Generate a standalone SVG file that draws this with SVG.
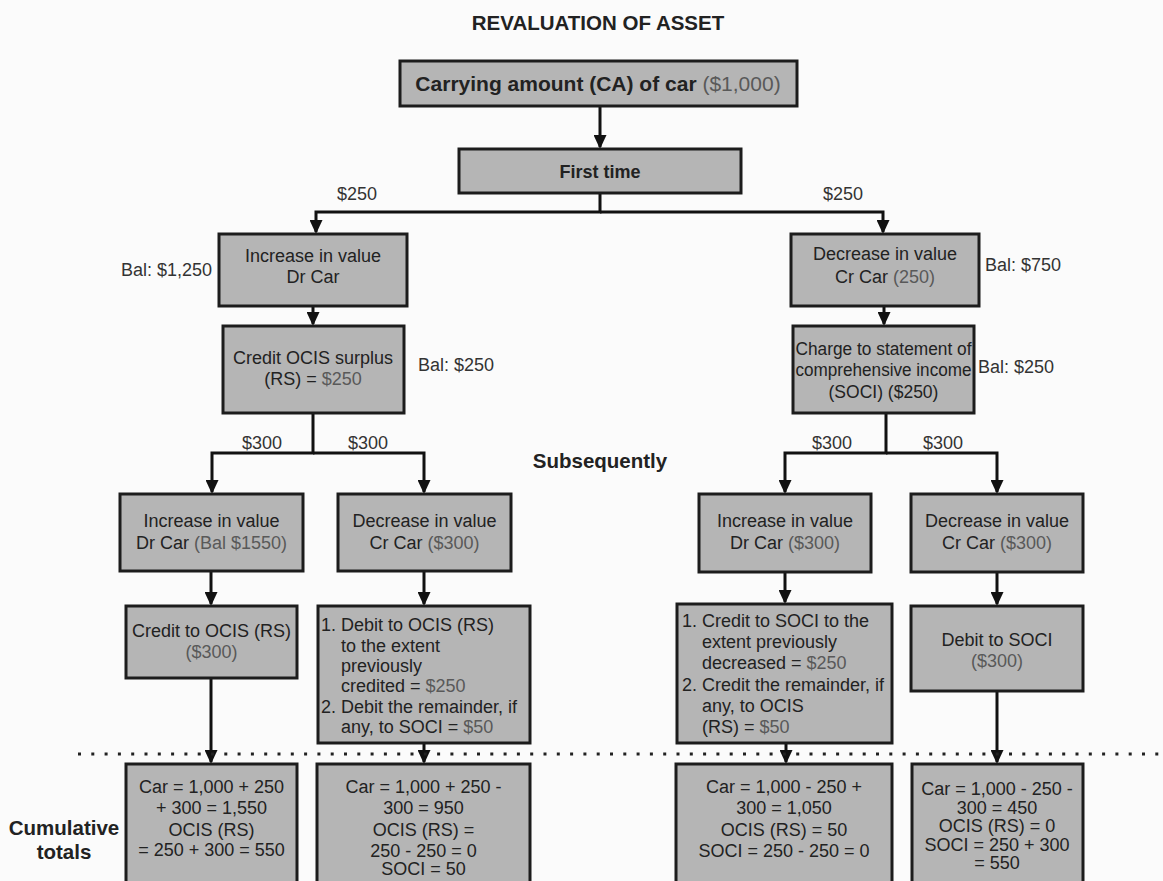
<svg xmlns="http://www.w3.org/2000/svg" width="1163" height="881" viewBox="0 0 1163 881">
  <style>
    .box { fill: #b5b5b5; stroke: #1c1c1c; stroke-width: 3; }
    .t { font-family: "Liberation Sans", Arial, Helvetica, sans-serif; font-size: 18px; fill: #222; }
    .c { text-anchor: middle; }
    .e { text-anchor: end; }
    .b { font-weight: bold; }
    .g { fill: #595959; }
    .lbl { fill: #333; }
    .conn { fill: none; stroke: #111; stroke-width: 3; stroke-linejoin: miter; }
    .dots { fill: none; stroke: #222; stroke-width: 3; stroke-dasharray: 3 10.3; }
  </style>
  <defs>
    <marker id="arrow" viewBox="0 0 14 13" refX="12" refY="6.5" markerWidth="14" markerHeight="13" markerUnits="userSpaceOnUse" orient="auto">
      <path d="M0,0 L14,6.5 L0,13 z" fill="#111"/>
    </marker>
  </defs>

  <rect width="1163" height="881" fill="#fbfbfb"/>

  <!-- heading -->
  <text class="t c b" x="598" y="30" style="font-size:20.5px">REVALUATION OF ASSET</text>

  <!-- connectors -->
  <g id="connectors">
    <path class="conn" d="M600,106 V147" marker-end="url(#arrow)"/>
    <path class="conn" d="M600,193 V212 H316 V232" marker-end="url(#arrow)"/>
    <path class="conn" d="M600,212 H883 V232" marker-end="url(#arrow)"/>
    <path class="conn" d="M313,306 V324" marker-end="url(#arrow)"/>
    <path class="conn" d="M884,306 V324" marker-end="url(#arrow)"/>
    <path class="conn" d="M313,413 V453 H212 V492" marker-end="url(#arrow)"/>
    <path class="conn" d="M313,453 H424 V492" marker-end="url(#arrow)"/>
    <path class="conn" d="M886,413 V453 H785 V492" marker-end="url(#arrow)"/>
    <path class="conn" d="M886,453 H997 V492" marker-end="url(#arrow)"/>
    <path class="conn" d="M211,571 V604" marker-end="url(#arrow)"/>
    <path class="conn" d="M424,571 V604" marker-end="url(#arrow)"/>
    <path class="conn" d="M785,572 V602" marker-end="url(#arrow)"/>
    <path class="conn" d="M997,572 V604" marker-end="url(#arrow)"/>
    <path class="conn" d="M211,678 V762" marker-end="url(#arrow)"/>
    <path class="conn" d="M424,743 V762" marker-end="url(#arrow)"/>
    <path class="conn" d="M786,743 V762" marker-end="url(#arrow)"/>
    <path class="conn" d="M997,691 V762" marker-end="url(#arrow)"/>
  </g>

  <!-- separator above the running totals -->
  <path class="dots" d="M78,754 H1163"/>

  <!-- edge amounts and balances -->
  <g id="labels">
    <text class="t c lbl" x="357" y="200">$250</text>
    <text class="t c lbl" x="843" y="200">$250</text>
    <text class="t e lbl" x="212" y="276">Bal: $1,250</text>
    <text class="t lbl" x="418" y="371">Bal: $250</text>
    <text class="t lbl" x="985" y="271">Bal: $750</text>
    <text class="t lbl" x="978" y="373">Bal: $250</text>
    <text class="t c lbl" x="262" y="449">$300</text>
    <text class="t c lbl" x="368" y="449">$300</text>
    <text class="t c lbl" x="832" y="449">$300</text>
    <text class="t c lbl" x="943" y="449">$300</text>
    <text class="t c b" x="600" y="468" style="font-size:20.5px">Subsequently</text>
    <text class="t c b" x="64" y="835" style="font-size:20.5px">Cumulative</text>
    <text class="t c b" x="64" y="859" style="font-size:20.5px">totals</text>
  </g>

  <g id="carrying-amount">
    <rect class="box" x="400" y="61" width="397" height="45"/>
    <text class="t c" x="598" y="90.5" style="font-size:21px"><tspan class="b">Carrying amount (CA) of car</tspan> <tspan class="g">($1,000)</tspan></text>
  </g>

  <g id="first-time">
    <rect class="box" x="459" y="149" width="282" height="44"/>
    <text class="t c b" x="600" y="177.5">First time</text>
  </g>

  <g id="first-increase">
    <rect class="box" x="219" y="234" width="188" height="72"/>
    <text class="t c" x="313" y="262">Increase in value</text>
    <text class="t c" x="313" y="283">Dr Car</text>
  </g>

  <g id="first-decrease">
    <rect class="box" x="791" y="234" width="188" height="72"/>
    <text class="t c" x="885" y="260">Decrease in value</text>
    <text class="t c" x="885" y="283">Cr Car <tspan class="g">(250)</tspan></text>
  </g>

  <g id="credit-ocis">
    <rect class="box" x="223" y="326" width="181" height="87"/>
    <text class="t c" x="313" y="364">Credit OCIS surplus</text>
    <text class="t c" x="313" y="385">(RS) = <tspan class="g">$250</tspan></text>
  </g>

  <g id="charge-soci">
    <rect class="box" x="793" y="326" width="181" height="87"/>
    <text class="t c" x="883.5" y="355" style="font-size:17.5px" textLength="176" lengthAdjust="spacingAndGlyphs">Charge to statement of</text>
    <text class="t c" x="883.5" y="376" style="font-size:17.5px" textLength="176" lengthAdjust="spacingAndGlyphs">comprehensive income</text>
    <text class="t c" x="883.5" y="398" style="font-size:17.5px">(SOCI) ($250)</text>
  </g>

  <g id="inc-after-inc">
    <rect class="box" x="120" y="494" width="183" height="77"/>
    <text class="t c" x="211.5" y="527">Increase in value</text>
    <text class="t c" x="211.5" y="549">Dr Car <tspan class="g">(Bal $1550)</tspan></text>
  </g>

  <g id="dec-after-inc">
    <rect class="box" x="338" y="494" width="173" height="77"/>
    <text class="t c" x="424.5" y="527">Decrease in value</text>
    <text class="t c" x="424.5" y="549">Cr Car <tspan class="g">($300)</tspan></text>
  </g>

  <g id="inc-after-dec">
    <rect class="box" x="699" y="494" width="172" height="78"/>
    <text class="t c" x="785" y="527">Increase in value</text>
    <text class="t c" x="785" y="549">Dr Car <tspan class="g">($300)</tspan></text>
  </g>

  <g id="dec-after-dec">
    <rect class="box" x="911" y="494" width="172" height="78"/>
    <text class="t c" x="997" y="527">Decrease in value</text>
    <text class="t c" x="997" y="549">Cr Car <tspan class="g">($300)</tspan></text>
  </g>

  <g id="credit-to-ocis">
    <rect class="box" x="126" y="606" width="171" height="72"/>
    <text class="t c" x="211.5" y="637">Credit to OCIS (RS)</text>
    <text class="t c g" x="211.5" y="658">($300)</text>
  </g>

  <g id="debit-to-ocis">
    <rect class="box" x="318" y="606" width="212" height="137"/>
    <text class="t" x="321" y="631">1.</text>
    <text class="t" x="341" y="631">Debit to OCIS (RS)</text>
    <text class="t" x="341" y="651.5">to the extent</text>
    <text class="t" x="341" y="672">previously</text>
    <text class="t" x="341" y="692">credited = <tspan class="g">$250</tspan></text>
    <text class="t" x="321" y="712.5">2.</text>
    <text class="t" x="341" y="712.5">Debit the remainder, if</text>
    <text class="t" x="341" y="733">any, to SOCI = <tspan class="g">$50</tspan></text>
  </g>

  <g id="credit-to-soci">
    <rect class="box" x="677" y="604" width="215" height="139"/>
    <text class="t" x="682" y="627">1.</text>
    <text class="t" x="702" y="627">Credit to SOCI to the</text>
    <text class="t" x="702" y="648">extent previously</text>
    <text class="t" x="702" y="669">decreased = <tspan class="g">$250</tspan></text>
    <text class="t" x="682" y="691">2.</text>
    <text class="t" x="702" y="691">Credit the remainder, if</text>
    <text class="t" x="702" y="712">any, to OCIS</text>
    <text class="t" x="702" y="733">(RS) = <tspan class="g">$50</tspan></text>
  </g>

  <g id="debit-to-soci">
    <rect class="box" x="911" y="606" width="172" height="85"/>
    <text class="t c" x="997" y="646">Debit to SOCI</text>
    <text class="t c g" x="997" y="667">($300)</text>
  </g>

  <g id="total-inc-inc">
    <rect class="box" x="126" y="764" width="171" height="130"/>
    <text class="t c" x="211.5" y="793">Car = 1,000 + 250</text>
    <text class="t c" x="211.5" y="814">+ 300 = 1,550</text>
    <text class="t c" x="211.5" y="836">OCIS (RS)</text>
    <text class="t c" x="211.5" y="856">= 250 + 300 = 550</text>
  </g>

  <g id="total-inc-dec">
    <rect class="box" x="317" y="764" width="213" height="130"/>
    <text class="t c" x="423.5" y="793">Car = 1,000 + 250 -</text>
    <text class="t c" x="423.5" y="814">300 = 950</text>
    <text class="t c" x="423.5" y="836">OCIS (RS) =</text>
    <text class="t c" x="423.5" y="857">250 - 250 = 0</text>
    <text class="t c" x="423.5" y="875">SOCI = 50</text>
  </g>

  <g id="total-dec-inc">
    <rect class="box" x="676" y="764" width="216" height="130"/>
    <text class="t c" x="784" y="793">Car = 1,000 - 250 +</text>
    <text class="t c" x="784" y="814">300 = 1,050</text>
    <text class="t c" x="784" y="836">OCIS (RS) = 50</text>
    <text class="t c" x="784" y="857">SOCI = 250 - 250 = 0</text>
  </g>

  <g id="total-dec-dec">
    <rect class="box" x="912" y="764" width="171" height="130"/>
    <text class="t c" x="997" y="795">Car = 1,000 - 250 -</text>
    <text class="t c" x="997" y="814">300 = 450</text>
    <text class="t c" x="997" y="832">OCIS (RS) = 0</text>
    <text class="t c" x="997" y="851">SOCI = 250 + 300</text>
    <text class="t c" x="997" y="869">= 550</text>
  </g>
</svg>
